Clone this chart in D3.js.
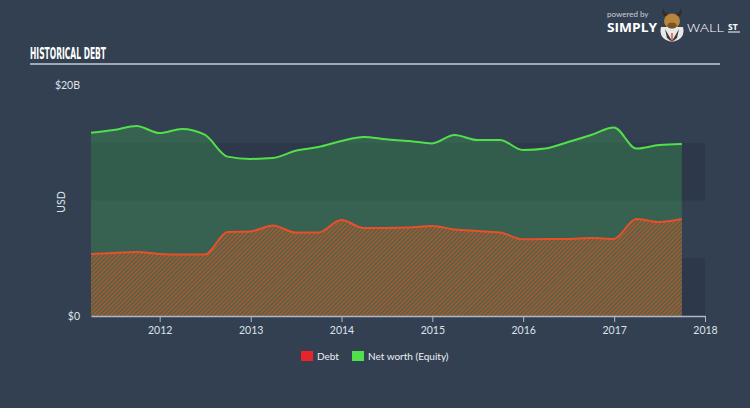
<!DOCTYPE html>
<html><head><meta charset="utf-8">
<script src="https://cdn.jsdelivr.net/npm/d3@7"></script>
<style>
html,body{margin:0;padding:0;background:#334052;}
svg{display:block;}
</style></head>
<body>
<svg id="c" width="750" height="408"></svg>
<script>
const dates = ["2011-03-31","2011-06-30","2011-09-30","2011-12-31","2012-03-31","2012-06-30","2012-09-30","2012-12-31",
"2013-03-31","2013-06-30","2013-09-30","2013-12-31","2014-03-31","2014-06-30","2014-09-30","2014-12-31",
"2015-03-31","2015-06-30","2015-09-30","2015-12-31","2016-03-31","2016-06-30","2016-09-30","2016-12-31",
"2017-03-31","2017-06-30","2017-09-30"];
const debt = [5.37,5.45,5.54,5.37,5.32,5.32,7.27,7.32,7.84,7.23,7.23,8.31,7.62,7.62,7.66,7.79,7.49,7.36,7.23,6.64,6.67,6.67,6.75,6.67,8.40,8.14,8.40];
const equity = [15.87,16.10,16.45,15.84,16.20,15.70,13.80,13.60,13.68,14.30,14.63,15.15,15.50,15.30,15.15,14.94,15.67,15.24,15.24,14.37,14.50,15.06,15.67,16.32,14.50,14.80,14.90];
const yearTicks = ["2012","2013","2014","2015","2016","2017","2018"];
const yTickValues = [0, 20];
const yTickLabels = ["$0", "$20B"];
const bandRanges = [[0,5],[10,15]];
const legendItems = ["Debt", "Net worth (Equity)"];

const svg = d3.select("#c");
const parse = d3.timeParse("%Y-%m-%d");
const dd = dates.map(parse);
const x = d3.scaleTime().domain([dd[0], parse("2018-01-01")]).range([91, 705]);
const y = d3.scaleLinear().domain([0, 20]).range([316, 85]);

// title
svg.append("text").attr("x", 30).attr("y", 59).text("HISTORICAL DEBT")
  .attr("fill", "#ffffff").attr("font-family", "'Liberation Sans Narrow','DejaVu Sans Condensed',sans-serif")
  .attr("font-weight", "bold").attr("font-size", 15.5)
  .attr("textLength", 76).attr("lengthAdjust", "spacingAndGlyphs");
svg.append("line").attr("x1", 30).attr("x2", 720).attr("y1", 64).attr("y2", 64)
  .attr("stroke", "#c3ccd6").attr("stroke-width", 1.5);

// logo
const logo = svg.append("g");
logo.append("text").attr("x", 607).attr("y", 17).text("powered by").attr("fill", "#c9d0d8")
  .attr("font-family", "Lato, sans-serif").attr("font-size", 8);
logo.append("text").attr("x", 607).attr("y", 32).text("SIMPLY").attr("fill", "#ffffff")
  .attr("font-family", "'Open Sans', sans-serif").attr("font-weight", "bold").attr("font-size", 11.5)
  .attr("textLength", 50).attr("lengthAdjust", "spacingAndGlyphs");
logo.append("text").attr("x", 687).attr("y", 32).text("WALL").attr("fill", "#ffffff")
  .attr("font-family", "'Open Sans', sans-serif").attr("font-weight", "300").attr("font-size", 11.5)
  .attr("textLength", 37).attr("lengthAdjust", "spacingAndGlyphs");
logo.append("text").attr("x", 728).attr("y", 30).text("ST").attr("fill", "#ffffff")
  .attr("font-family", "'Open Sans', sans-serif").attr("font-weight", "bold").attr("font-size", 8.5);
logo.append("line").attr("x1", 728).attr("x2", 740).attr("y1", 32).attr("y2", 32).attr("stroke", "#fff").attr("stroke-width", 1);
// bull icon
logo.append("path").attr("d", "M661,27 Q658,39 672,42 Q686,39 683,27 Z").attr("fill", "#e8e8e8");
logo.append("path").attr("d", "M665,29 L672,41 L679,29 L677,38 L672,42 L667,38 Z").attr("fill", "#3a3a3a");
logo.append("ellipse").attr("cx", 672).attr("cy", 21).attr("rx", 8).attr("ry", 7.5).attr("fill", "#b8863a");
logo.append("ellipse").attr("cx", 672).attr("cy", 25.5).attr("rx", 4.5).attr("ry", 3).attr("fill", "#7a5426");
logo.append("path").attr("d", "M664,16 Q661,12 663,8 Q664,13 668,15 Z M680,16 Q683,12 681,8 Q680,13 676,15 Z").attr("fill", "#3a2a1a");
logo.append("line").attr("x1", 672).attr("x2", 672).attr("y1", 33).attr("y2", 40).attr("stroke", "#e0502a").attr("stroke-width", 1.5);

// bands
svg.append("g").selectAll("rect").data(bandRanges).join("rect")
  .attr("x", x.range()[0]).attr("width", x.range()[1] - x.range()[0])
  .attr("y", d => y(d[1])).attr("height", d => y(d[0]) - y(d[1]))
  .attr("fill", "#2d394a");

// pattern
const defs = svg.append("defs");
const pat = defs.append("pattern").attr("id", "hatch").attr("patternUnits", "userSpaceOnUse")
  .attr("width", 3).attr("height", 3).attr("patternTransform", "rotate(45)");
pat.append("rect").attr("width", 3).attr("height", 3).attr("fill", "#3d664d");
pat.append("rect").attr("width", 1.5).attr("height", 3).attr("fill", "#b9552e");

const pts = dd.map((d, i) => ({d, debt: debt[i], eq: equity[i]}));
const curve = d3.curveMonotoneX;

svg.append("path").datum(pts)
  .attr("d", d3.area().x(p => x(p.d)).y0(y(0)).y1(p => y(p.eq)).curve(curve))
  .attr("fill", "rgba(65,190,80,0.27)");
svg.append("path").datum(pts)
  .attr("d", d3.area().x(p => x(p.d)).y0(y(0)).y1(p => y(p.debt)).curve(curve))
  .attr("fill", "url(#hatch)");
svg.append("path").datum(pts)
  .attr("d", d3.line().x(p => x(p.d)).y(p => y(p.eq)).curve(curve))
  .attr("fill", "none").attr("stroke", "#52e04a").attr("stroke-width", 2);
svg.append("path").datum(pts)
  .attr("d", d3.line().x(p => x(p.d)).y(p => y(p.debt)).curve(curve))
  .attr("fill", "none").attr("stroke", "#e8502a").attr("stroke-width", 2);

// x axis
const xAxis = d3.axisBottom(x).tickValues(yearTicks.map(t => parse(t + "-01-01")))
  .tickFormat(d3.timeFormat("%Y")).tickSize(6).tickSizeOuter(0);
const gx = svg.append("g").attr("transform", `translate(0,${y(0)})`).call(xAxis);
gx.select(".domain").attr("stroke", "#aeb8c4").attr("stroke-width", 1.5);
gx.selectAll(".tick line").attr("stroke", "#aeb8c4");
gx.selectAll(".tick text").attr("fill", "#dde2e8").attr("font-family", "Lato, sans-serif").attr("font-size", 10.5).attr("dy", "0.9em");

// y labels
svg.append("g").selectAll("text").data(yTickValues).join("text")
  .attr("x", 80).attr("y", d => y(d)).attr("dy", "0.35em").attr("text-anchor", "end")
  .text((d, i) => yTickLabels[i]).attr("fill", "#dde2e8")
  .attr("font-family", "Lato, sans-serif").attr("font-size", 10.5);
svg.append("text").attr("transform", "translate(65,202) rotate(-90)").attr("text-anchor", "middle")
  .text("USD").attr("fill", "#dde2e8").attr("font-family", "Lato, sans-serif").attr("font-size", 10.5);

// legend
const legColors = ["#e8242a", "#4fe04a"];
const legX = [301, 352];
const lg = svg.append("g");
legendItems.forEach((t, i) => {
  lg.append("rect").attr("x", legX[i]).attr("y", 351).attr("width", 12).attr("height", 10).attr("fill", legColors[i]);
  lg.append("text").attr("x", legX[i] + 16).attr("y", 359.5).text(t).attr("fill", "#eef1f4")
    .attr("font-family", "Lato, sans-serif").attr("font-size", 10);
});
</script>
</body></html>
